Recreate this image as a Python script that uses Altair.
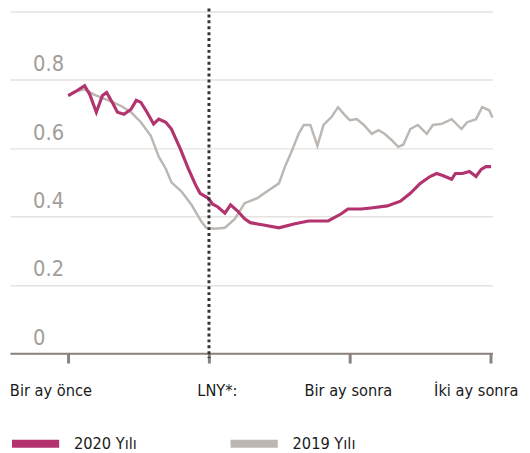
import altair as alt
import pandas as pd

# 2020 series (days relative to LNY, share value)
days_2020 = [-30, -28.4, -26.5, -25.4, -24.0, -22.7, -21.8, -20.6, -19.5, -18.1, -16.6, -15.5,
             -14.5, -13.2, -11.8, -10.7, -9.2, -8.0, -6.1, -4.4, -2.9, -1.9, -0.2, 0.8, 1.9,
             3.4, 4.6, 6.1, 7.6, 8.8, 11.3, 14.9, 18.3, 21.2, 25.4, 28.2, 29.6, 32.4, 34.5,
             38.0, 40.8, 42.9, 45.0, 47.1, 48.5, 49.8, 51.7, 52.5, 54.0, 55.5, 56.9, 58.0,
             59.0, 60.1]
vals_2020 = [0.754, 0.766, 0.783, 0.757, 0.705, 0.754, 0.763, 0.734, 0.705, 0.699, 0.714, 0.740,
             0.734, 0.705, 0.671, 0.685, 0.676, 0.656, 0.598, 0.540, 0.494, 0.468, 0.454, 0.436,
             0.428, 0.410, 0.434, 0.416, 0.393, 0.382, 0.376, 0.367, 0.379, 0.387, 0.387, 0.408,
             0.422, 0.422, 0.425, 0.431, 0.445, 0.468, 0.497, 0.517, 0.526, 0.520, 0.509, 0.526,
             0.526, 0.532, 0.517, 0.538, 0.546, 0.546]

# 2019 series
days_2019 = [-30, -28.4, -26.5, -24.5, -22.5, -20.5, -18.5, -16.6, -14.5, -12.4, -10.7, -9.2,
             -8.0, -5.9, -3.8, -1.7, -0.6, 1.3, 3.4, 5.5, 7.6, 10.3, 12.4, 13.4, 14.9, 16.2,
             17.6, 19.1, 20.2, 21.6, 23.1, 24.4, 26.1, 27.5, 28.8, 30.0, 31.5, 33.0, 34.7,
             36.1, 37.4, 38.9, 40.3, 41.4, 42.9, 44.5, 46.4, 47.7, 49.6, 51.7, 53.8, 55.0,
             56.9, 58.2, 59.7, 60.4]
vals_2019 = [0.754, 0.766, 0.772, 0.757, 0.746, 0.735, 0.722, 0.705, 0.676, 0.636, 0.575, 0.540,
             0.500, 0.474, 0.436, 0.387, 0.367, 0.364, 0.367, 0.393, 0.439, 0.454, 0.474, 0.483,
             0.497, 0.546, 0.590, 0.642, 0.668, 0.668, 0.607, 0.668, 0.691, 0.720, 0.699, 0.682,
             0.685, 0.668, 0.642, 0.653, 0.642, 0.624, 0.604, 0.610, 0.656, 0.668, 0.642, 0.668,
             0.671, 0.685, 0.656, 0.676, 0.685, 0.720, 0.711, 0.690]

series_names = ["2020 Yılı", "2019 Yılı"]
series_colors = ["#b3336e", "#bcb7b3"]
x_tick_values = [-30, 0, 30, 60]
x_tick_labels = ["Bir ay önce", "LNY*:", "Bir ay sonra", "İki ay sonra"]
y_tick_values = [0, 0.2, 0.4, 0.6, 0.8, 1.0]

df = pd.concat([
    pd.DataFrame({"day": days_2020, "value": vals_2020, "series": series_names[0]}),
    pd.DataFrame({"day": days_2019, "value": vals_2019, "series": series_names[1]}),
])

FONT = "DejaVu Sans Condensed, sans-serif"

label_expr = " : ".join(
    f"datum.value == {v} ? '{t}'" for v, t in zip(x_tick_values, x_tick_labels)
) + " : ''"

x_enc = alt.X(
    "day:Q",
    scale=alt.Scale(domain=[-42.4, 60.4], nice=False, zero=False),
    axis=alt.Axis(
        title=None, values=x_tick_values, grid=False, labelExpr=label_expr,
        domainColor="#8c827d", domainWidth=2, tickColor="#8c827d", tickWidth=3, tickSize=10,
        labelFont=FONT, labelFontSize=16.5, labelColor="#1a1a1a", labelPadding=20,
        labelOffset={"expr": "datum.value == -30 ? -18 : datum.value == 0 ? 8 : datum.value == 60 ? -15 : -2"},
    ),
)
y_enc = alt.Y(
    "value:Q",
    scale=alt.Scale(domain=[0, 1.0], nice=False),
    axis=alt.Axis(
        title=None, values=y_tick_values, grid=True, gridColor="#e6e2de", gridWidth=1.5,
        domain=False, ticks=False, tickSize=0, labelAlign="left", labelBaseline="bottom",
        labelPadding=-23, labelOffset=-4, labelFont=FONT, labelFontSize=22,
        labelColor="#a29d99",
        labelExpr="datum.value >= 1 ? '' : datum.value == 0 ? '0' : format(datum.value, '.1f')",
    ),
)
color_enc = alt.Color(
    "series:N",
    scale=alt.Scale(domain=series_names, range=series_colors),
    legend=alt.Legend(
        title=None, orient="none", direction="horizontal", legendX=-2, legendY=411,
        symbolType="stroke", symbolSize=2300, symbolStrokeWidth=8, labelFont=FONT,
        labelFontSize=16.5, labelColor="#1a1a1a", columnPadding=79, labelOffset=11,
        padding=0,
    ),
)

base = alt.Chart(df)
grey = base.transform_filter(alt.datum.series == series_names[1]).mark_line(
    strokeWidth=2.5, interpolate="linear"
).encode(x=x_enc, y=y_enc, color=color_enc)
mag = base.transform_filter(alt.datum.series == series_names[0]).mark_line(
    strokeWidth=3.2, interpolate="linear"
).encode(x=x_enc, y=y_enc, color=color_enc)

rule = alt.Chart(pd.DataFrame({"day": [0]})).mark_rule(
    color="#333333", strokeWidth=3, strokeDash=[3, 3]
).encode(x=alt.X("day:Q"), y=alt.value(-3), y2=alt.value(352))

chart = alt.layer(grey, mag, rule).properties(
    width=490, height=347,
    autosize=alt.AutoSizeParams(type="none"),
    padding={"left": 2, "top": 0, "right": 30, "bottom": 110},
).configure_view(stroke=None)

chart.save("out.html", embed_options={"renderer": "svg", "actions": False})
